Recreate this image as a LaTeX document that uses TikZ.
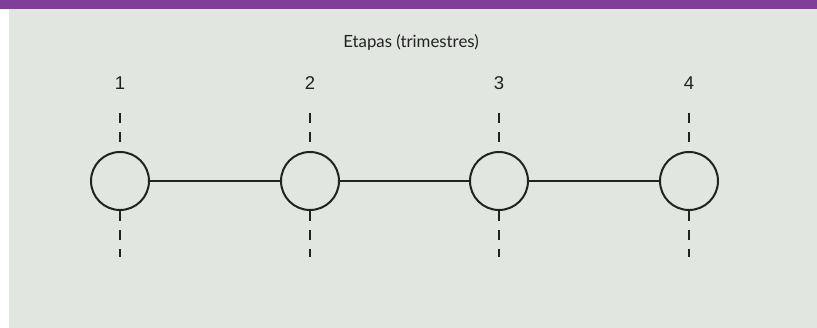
\documentclass[tikz,border=0pt]{standalone}
\usepackage{xcolor}
\usepackage{fontspec}
\setmainfont{Lato}
\newfontfamily\digitfont{Liberation Sans}
\usepackage{tikz}
\usetikzlibrary{calc}
\usetikzlibrary{positioning}
\definecolor{barpurple}{RGB}{127,63,152}
\definecolor{panelgrey}{RGB}{225,230,224}
\definecolor{inkgrey}{RGB}{34,34,34}
\tikzstyle{etapa} = [circle, draw=inkgrey, line width=2pt, minimum size=58pt, inner sep=0pt]
\tikzstyle{num} = [font=\digitfont\fontsize{18.5}{18.5}\selectfont, text=inkgrey]
\tikzstyle{guide} = [draw=inkgrey, line width=2.2pt, dash pattern=on 10pt off 9pt]

\begin{document}
\begin{tikzpicture}[x=1pt, y=-1pt]
\useasboundingbox (0, 0) rectangle (817, 328);
\fill [white] (0, 0) rectangle (817, 328);
\fill [panelgrey] (9, 9) rectangle (817, 328);
\fill [barpurple] (0, 0) rectangle (817, 9);
\node [font=\fontsize{16.8}{16.8}\selectfont, text=inkgrey] (T) at (411, 42) {Etapas (trimestres)};
% etapas
\node [etapa] (E1) at (120, 181) {};
\node [etapa] (E2) at (310, 181) {};
\node [etapa] (E3) at (499, 181) {};
\node [etapa] (E4) at (689, 181) {};
\node [num] (N1) at (120, 83) {1};
\node [num] (N2) at (310, 83) {2};
\node [num] (N3) at (499, 83) {3};
\node [num] (N4) at (689, 83) {4};
\coordinate (U1) at (120, 113);
\coordinate (U2) at (310, 113);
\coordinate (U3) at (499, 113);
\coordinate (U4) at (689, 113);
\coordinate (D1) at (120, 257);
\coordinate (D2) at (310, 257);
\coordinate (D3) at (499, 257);
\coordinate (D4) at (689, 257);
\draw [-, draw=inkgrey, line width=1.6pt] (E1) to (E2);
\draw [-, draw=inkgrey, line width=1.6pt] (E2) to (E3);
\draw [-, draw=inkgrey, line width=1.6pt] (E3) to (E4);
\draw [guide] (U1) to (E1.north);
\draw [guide] (U2) to (E2.north);
\draw [guide] (U3) to (E3.north);
\draw [guide] (U4) to (E4.north);
\draw [guide] (E1.south) to (D1);
\draw [guide] (E2.south) to (D2);
\draw [guide] (E3.south) to (D3);
\draw [guide] (E4.south) to (D4);
\end{tikzpicture}
\end{document}
